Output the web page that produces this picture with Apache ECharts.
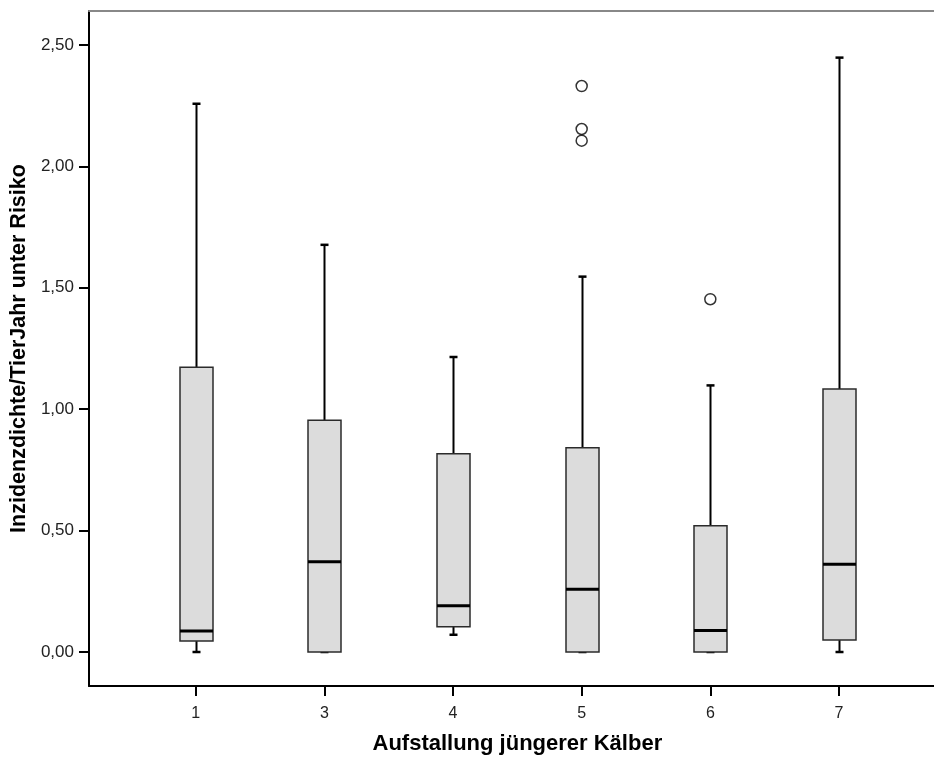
<!DOCTYPE html>
<html>
<head>
<meta charset="utf-8">
<script src="https://cdn.jsdelivr.net/npm/echarts@6/dist/echarts.min.js"></script>
<style>
html,body{margin:0;padding:0;background:#fff;}
#main{width:934px;height:757px;}
</style>
</head>
<body>
<div id="main"></div>
<script>
var categories = ['1', '3', '4', '5', '6', '7'];
var whiskerLow = [0, 0, 0.071, 0, 0, 0];
var q1 = [0.045, 0, 0.104, 0, 0, 0.049];
var median = [0.087, 0.372, 0.191, 0.258, 0.089, 0.361];
var q3 = [1.173, 0.954, 0.817, 0.841, 0.520, 1.083];
var whiskerHigh = [2.258, 1.677, 1.215, 1.546, 1.098, 2.448];
var outlierGroup = ['5', '5', '5', '6'];
var outlierValue = [2.331, 2.154, 2.106, 1.453];
var yTicks = [0, 0.5, 1, 1.5, 2, 2.5];

var myChart = echarts.init(document.getElementById('main'));

var boxData = [];
for (var i = 0; i < categories.length; i++) {
    boxData.push([i, whiskerLow[i], q1[i], median[i], q3[i], whiskerHigh[i]]);
}
var outlierData = [];
for (var j = 0; j < outlierGroup.length; j++) {
    outlierData.push([categories.indexOf(outlierGroup[j]), outlierValue[j]]);
}

// Box mit kurzen Whisker-Enden wie in SPSS
function renderBox(params, api) {
    var x = api.value(0);
    var lo = api.coord([x, api.value(1)]);
    var b = api.coord([x, api.value(2)]);
    var m = api.coord([x, api.value(3)]);
    var t = api.coord([x, api.value(4)]);
    var hi = api.coord([x, api.value(5)]);
    var cx = Math.round(t[0]) + 0.5;
    var half = 16.5, cap = 4;
    var lineStyle = {stroke: '#000', lineWidth: 2};
    return {
        type: 'group',
        children: [
            {type: 'line', shape: {x1: cx, y1: t[1], x2: cx, y2: hi[1]}, style: lineStyle},
            {type: 'line', shape: {x1: cx - cap, y1: hi[1], x2: cx + cap, y2: hi[1]}, style: {stroke: '#000', lineWidth: 2.5}},
            {type: 'line', shape: {x1: cx, y1: b[1], x2: cx, y2: lo[1]}, style: lineStyle},
            {type: 'line', shape: {x1: cx - cap, y1: lo[1], x2: cx + cap, y2: lo[1]}, style: {stroke: '#000', lineWidth: 2.5}},
            {type: 'rect', shape: {x: cx - half, y: t[1], width: half * 2, height: b[1] - t[1]},
                style: {fill: '#dcdcdc', stroke: '#2b2b2b', lineWidth: 1.5}},
            {type: 'line', shape: {x1: cx - half, y1: m[1], x2: cx + half, y2: m[1]}, style: {stroke: '#000', lineWidth: 3}}
        ]
    };
}

var option = {
    animation: false,
    backgroundColor: '#fff',
    textStyle: {fontFamily: 'Liberation Sans, Arial, sans-serif'},
    grid: [
        {left: 89, right: -30, top: 11, bottom: 71, outerBoundsMode: 'none'},
        {left: 131.4, right: 30.7, top: 11, bottom: 71, outerBoundsMode: 'none'}
    ],
    xAxis: [
        {
            gridIndex: 0, type: 'value', min: 0, max: 1, position: 'bottom',
            axisLine: {onZero: false, lineStyle: {color: '#000', width: 2}},
            axisTick: {show: false}, axisLabel: {show: false}, splitLine: {show: false}
        },
        {
            gridIndex: 0, type: 'value', min: 0, max: 1, position: 'top',
            axisLine: {onZero: false, lineStyle: {color: '#888', width: 2}},
            axisTick: {show: false}, axisLabel: {show: false}, splitLine: {show: false}
        },
        {
            gridIndex: 1, type: 'category', data: categories, position: 'bottom',
            axisLine: {show: false, onZero: false},
            axisTick: {show: true, alignWithLabel: true, length: 10, lineStyle: {color: '#000', width: 2}},
            axisLabel: {fontSize: 16, color: '#222', margin: 20},
            name: 'Aufstallung jüngerer Kälber',
            nameLocation: 'middle',
            nameGap: 47,
            nameTextStyle: {fontSize: 22, fontWeight: 'bold', color: '#000'}
        }
    ],
    yAxis: [
        {
            gridIndex: 0, type: 'value', min: -0.14, max: 2.64,
            axisLine: {show: true, onZero: false, lineStyle: {color: '#000', width: 2}},
            axisTick: {show: true, length: 10, customValues: yTicks, lineStyle: {color: '#000', width: 2}},
            axisLabel: {
                customValues: yTicks, fontSize: 17, color: '#222', margin: 15,
                formatter: function (v) { return v.toFixed(2).replace('.', ','); }
            },
            splitLine: {show: false},
            name: 'Inzidenzdichte/TierJahr unter Risiko',
            nameLocation: 'middle',
            nameRotate: 90,
            nameGap: 55,
            nameTextStyle: {fontSize: 21.5, fontWeight: 'bold', color: '#000'}
        },
        {
            gridIndex: 1, type: 'value', min: -0.14, max: 2.64, show: false
        }
    ],
    series: [
        {
            type: 'custom',
            xAxisIndex: 2,
            yAxisIndex: 1,
            renderItem: renderBox,
            encode: {x: 0, y: [1, 2, 3, 4, 5]},
            data: boxData
        },
        {
            type: 'scatter',
            xAxisIndex: 2,
            yAxisIndex: 1,
            symbol: 'circle',
            symbolSize: 11,
            itemStyle: {color: '#fff', borderColor: '#000', borderWidth: 1.5},
            data: outlierData
        }
    ]
};
myChart.setOption(option);
</script>
</body>
</html>
